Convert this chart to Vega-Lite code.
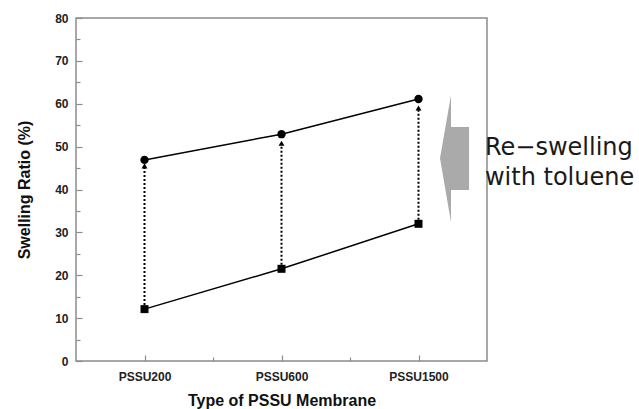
{
  "$schema": "https://vega.github.io/schema/vega-lite/v6.json",
  "width": 411,
  "height": 343,
  "autosize": {"type": "none"},
  "padding": {"left": 76, "top": 18, "right": 152, "bottom": 48},
  "background": "white",
  "config": {
    "view": {"stroke": "#8c8c8c", "strokeWidth": 1.5},
    "axis": {
      "domain": false,
      "grid": false,
      "labelFont": "Liberation Sans",
      "labelFontWeight": "bold",
      "labelColor": "#222222",
      "titleFont": "Liberation Sans",
      "titleFontWeight": "bold",
      "titleColor": "#111111",
      "tickColor": "#8c8c8c",
      "tickWidth": 1.2
    }
  },
  "datasets": {
    "membranes": [
      {"pos": 1, "membrane": "PSSU200", "dry": 12.1, "reswelled": 46.9, "arrow_tip": 45.5},
      {"pos": 2, "membrane": "PSSU600", "dry": 21.5, "reswelled": 52.9, "arrow_tip": 50.8},
      {"pos": 3, "membrane": "PSSU1500", "dry": 32.0, "reswelled": 61.1, "arrow_tip": 59.0}
    ],
    "arrowHead": [
      {"x": 3.157, "top": 47.3, "bottom": 47.3},
      {"x": 3.237, "top": 62.0, "bottom": 32.4}
    ],
    "arrowBody": [
      {"x": 3.237, "x2": 3.369, "top": 54.6, "bottom": 39.9}
    ],
    "note": [
      {"x": 3.485, "y": 48.0, "text": ["Re\u2212swelling", "with toluene"]}
    ]
  },
  "resolve": {"axis": {"x": "independent", "y": "independent"}},
  "layer": [
    {
      "data": {"name": "arrowHead"},
      "mark": {"type": "area", "color": "#aaaaaa", "opacity": 1},
      "encoding": {
        "x": {"field": "x", "type": "quantitative", "scale": {"domain": [0.5, 3.5]}, "axis": null},
        "y": {"field": "top", "type": "quantitative", "scale": {"domain": [0, 80]}, "axis": null},
        "y2": {"field": "bottom"}
      }
    },
    {
      "data": {"name": "arrowBody"},
      "mark": {"type": "rect", "color": "#aaaaaa"},
      "encoding": {
        "x": {"field": "x", "type": "quantitative", "scale": {"domain": [0.5, 3.5]}, "axis": null},
        "x2": {"field": "x2"},
        "y": {"field": "top", "type": "quantitative", "scale": {"domain": [0, 80]}, "axis": null},
        "y2": {"field": "bottom"}
      }
    },
    {
      "data": {"name": "membranes"},
      "mark": {"type": "line", "color": "#000000", "strokeWidth": 1.5},
      "encoding": {
        "x": {
          "field": "pos", "type": "quantitative", "scale": {"domain": [0.5, 3.5]},
          "axis": {
            "orient": "bottom", "values": [1, 2, 3], "tickSize": -6,
            "labelExpr": "['PSSU200','PSSU600','PSSU1500'][datum.value - 1]",
            "labelFontSize": 12, "labelPadding": 16,
            "title": "Type of PSSU Membrane", "titleFontSize": 16, "titlePadding": 10
          }
        },
        "y": {
          "field": "dry", "type": "quantitative", "scale": {"domain": [0, 80]},
          "axis": {
            "orient": "left", "values": [0, 10, 20, 30, 40, 50, 60, 70, 80], "tickSize": -6,
            "labelFontSize": 12, "labelPadding": 14,
            "title": "Swelling Ratio (%)", "titleFontSize": 16, "titlePadding": 22
          }
        }
      }
    },
    {
      "data": {"name": "membranes"},
      "mark": {"type": "line", "color": "#000000", "strokeWidth": 1.5},
      "encoding": {
        "x": {"field": "pos", "type": "quantitative", "scale": {"domain": [0.5, 3.5]}, "axis": null},
        "y": {"field": "reswelled", "type": "quantitative", "scale": {"domain": [0, 80]}, "axis": null}
      }
    },
    {
      "data": {"name": "membranes"},
      "mark": {"type": "rule", "color": "#000000", "strokeWidth": 2, "strokeDash": [2, 2]},
      "encoding": {
        "x": {"field": "pos", "type": "quantitative", "scale": {"domain": [0.5, 3.5]}, "axis": null},
        "y": {"field": "dry", "type": "quantitative", "scale": {"domain": [0, 80]}, "axis": null},
        "y2": {"field": "arrow_tip"}
      }
    },
    {
      "data": {"name": "membranes"},
      "mark": {"type": "point", "shape": "square", "filled": true, "color": "#000000", "size": 64, "opacity": 1},
      "encoding": {
        "x": {
          "field": "pos", "type": "quantitative", "scale": {"domain": [0.5, 3.5]},
          "axis": {"orient": "bottom", "values": [1.5, 2.5], "tickSize": -4, "labels": false, "title": null}
        },
        "y": {
          "field": "dry", "type": "quantitative", "scale": {"domain": [0, 80]},
          "axis": {"orient": "left", "values": [5, 15, 25, 35, 45, 55, 65, 75], "tickSize": -4, "labels": false, "title": null}
        }
      }
    },
    {
      "data": {"name": "membranes"},
      "mark": {"type": "point", "shape": "triangle-up", "filled": true, "color": "#000000", "size": 35, "opacity": 1},
      "encoding": {
        "x": {"field": "pos", "type": "quantitative", "scale": {"domain": [0.5, 3.5]}, "axis": null},
        "y": {"field": "arrow_tip", "type": "quantitative", "scale": {"domain": [0, 80]}, "axis": null}
      }
    },
    {
      "data": {"name": "membranes"},
      "mark": {"type": "point", "shape": "circle", "filled": true, "color": "#000000", "size": 70, "opacity": 1},
      "encoding": {
        "x": {"field": "pos", "type": "quantitative", "scale": {"domain": [0.5, 3.5]}, "axis": null},
        "y": {"field": "reswelled", "type": "quantitative", "scale": {"domain": [0, 80]}, "axis": null}
      }
    },
    {
      "data": {"name": "note"},
      "mark": {"type": "text", "font": "DejaVu Sans", "fontSize": 24, "color": "#1a1a1a", "align": "left", "baseline": "alphabetic", "lineHeight": 30},
      "encoding": {
        "x": {"field": "x", "type": "quantitative", "scale": {"domain": [0.5, 3.5]}, "axis": null},
        "y": {"field": "y", "type": "quantitative", "scale": {"domain": [0, 80]}, "axis": null},
        "text": {"field": "text"}
      }
    }
  ]
}
